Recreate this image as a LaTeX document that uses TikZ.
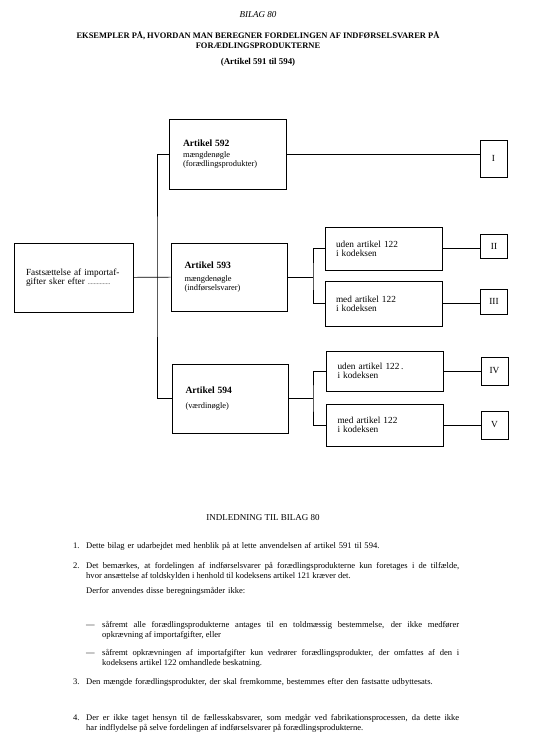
\documentclass[tikz,border=0pt]{standalone}
\usepackage{fontspec}
\setmainfont{Liberation Serif}
\usetikzlibrary{positioning}
\newcommand\boxsize{\fontsize{8.4}{8.5}\selectfont}
\newcommand\titlesize{\fontsize{9.6}{9}\selectfont}
\newcommand\casesize{\fontsize{9.3}{8.8}\selectfont}
\newcommand\bodysize{\fontsize{8.55}{10}\selectfont}

\begin{document}
\begin{tikzpicture}[x=1pt, y=-1pt,
    artbox/.style={draw, line width=0.6pt, minimum width=117pt, minimum height=70pt, text width=89pt, align=left, inner sep=0pt, font=\boxsize},
    casebox/.style={draw, line width=0.6pt, minimum width=117pt, minimum height=43pt, text width=95pt, align=left, inner sep=0pt, font=\casesize},
    romanbox/.style={draw, line width=0.6pt, minimum width=27pt, minimum height=26pt, inner sep=0pt, font=\casesize},
    link/.style={line width=0.6pt},
    para/.style={anchor=base west, inner sep=0pt, font=\bodysize, align=justify},
    num/.style={anchor=base west, inner sep=0pt, font=\bodysize},
]
    \useasboundingbox (0,0) rectangle (550,745);

    % Headings
    \node[font=\itshape\fontsize{9}{9}\selectfont] (bilag) at (258, 15) {BILAG 80};
    \node[font=\bfseries\fontsize{8.45}{9.5}\selectfont, align=center] (heading) at (258, 40) {EKSEMPLER PÅ, HVORDAN MAN BEREGNER FORDELINGEN AF INDFØRSELSVARER PÅ\\FORÆDLINGSPRODUKTERNE};
    \node[font=\bfseries\fontsize{8.9}{9}\selectfont] (artref) at (258, 62) {(Artikel 591 til 594)};

    % Start box
    \node[artbox, minimum width=119pt, minimum height=69pt, text width=95pt, font=\casesize] (start) at (73.5, 277.5) {Fastsættelse af importaf-\\gifter sker efter {\fontsize{6}{6}\selectfont ...............}};

    % Articles
    \node[artbox] (a592) at (227.5, 154) {{\titlesize\bfseries Artikel 592}\\[3pt]mængdenøgle\\(forædlingsprodukter)};
    \node[artbox, minimum width=116pt, minimum height=68pt] (a593) at (229, 277) {{\titlesize\bfseries Artikel 593}\\[5pt]mængdenøgle\\(indførselsvarer)};
    \node[artbox, minimum width=116pt, minimum height=69pt] (a594) at (230, 398.5) {{\titlesize\bfseries Artikel 594}\\[6pt](værdinøgle)};

    % Cases
    \node[casebox] (uden593) at (383.5, 248.5) {uden artikel 122\\i kodeksen};
    \node[casebox, minimum height=45pt] (med593) at (383.5, 303.5) {med artikel 122\\i kodeksen};
    \node[casebox, minimum height=40pt] (uden594) at (385, 371) {uden artikel 122\,.\\i kodeksen};
    \node[casebox, minimum height=42pt] (med594) at (385, 425) {med artikel 122\\i kodeksen};

    % Results
    \node[romanbox, minimum height=37pt] (rI) at (493.5, 158.5) {I};
    \node[romanbox, minimum height=24pt] (rII) at (494, 246) {II};
    \node[romanbox, minimum height=25pt] (rIII) at (494, 301.5) {III};
    \node[romanbox, minimum height=28pt] (rIV) at (494.5, 371) {IV};
    \node[romanbox, minimum height=28pt] (rV) at (494.5, 425) {V};

    % Branch points
    \coordinate (bus) at (157, 277);
    \coordinate (s593) at (313, 277);
    \coordinate (s594) at (313, 398.5);

    % Connections
    \draw[link] (start) -- (a593);
    \draw[link] (a592.west) -| (bus) |- (a594.west);
    \draw[link] (a593) -- (s593);
    \draw[link] (uden593.west) -| (s593) |- (med593.west);
    \draw[link] (a594) -- (s594);
    \draw[link] (uden594.west) -| (s594) |- (med594.west);

    \draw[link] (a592.east) -- (a592.east -| rI.west);
    \draw[link] (uden593.east) -- (uden593.east -| rII.west);
    \draw[link] (med593.east) -- (med593.east -| rIII.west);
    \draw[link] (uden594.east) -- (uden594.east -| rIV.west);
    \draw[link] (med594.east) -- (med594.east -| rV.west);

    % Introduction
    \node[font=\fontsize{9}{10}\selectfont] (intro) at (263, 518) {INDLEDNING TIL BILAG 80};

    \node[num] (n1) at (73, 548) {1.};
    \node[para, text width=373pt, align=left] (p1) at (86, 548) {Dette bilag er udarbejdet med henblik på at lette anvendelsen af artikel 591 til 594.};
    \node[num] (n2) at (73, 568) {2.};
    \node[para, text width=373pt] (p2) at (86, 568) {Det bemærkes, at fordelingen af indførselsvarer på forædlingsprodukterne kun foretages i de tilfælde,\linebreak hvor ansættelse af toldskylden i henhold til kodeksens artikel 121 kræver det.};
    \node[para, text width=373pt, align=left] (p2b) at (86, 593) {Derfor anvendes disse beregningsmåder ikke:};
    \node[num] (d1) at (86, 627) {—};
    \node[para, text width=357pt] (p2c) at (102, 627) {såfremt alle forædlingsprodukterne antages til en toldmæssig bestemmelse, der ikke medfører\linebreak opkrævning af importafgifter, eller};
    \node[num] (d2) at (86, 655) {—};
    \node[para, text width=357pt] (p2d) at (102, 655) {såfremt opkrævningen af importafgifter kun vedrører forædlingsprodukter, der omfattes af den i\linebreak kodeksens artikel 122 omhandlede beskatning.};
    \node[num] (n3) at (73, 684) {3.};
    \node[para, text width=373pt, align=left] (p3) at (86, 684) {Den mængde forædlingsprodukter, der skal fremkomme, bestemmes efter den fastsatte udbyttesats.};
    \node[num] (n4) at (73, 720) {4.};
    \node[para, text width=373pt] (p4) at (86, 720) {Der er ikke taget hensyn til de fællesskabsvarer, som medgår ved fabrikationsprocessen, da dette ikke\linebreak har indflydelse på selve fordelingen af indførselsvarer på forædlingsprodukterne.};

\end{tikzpicture}
\end{document}
